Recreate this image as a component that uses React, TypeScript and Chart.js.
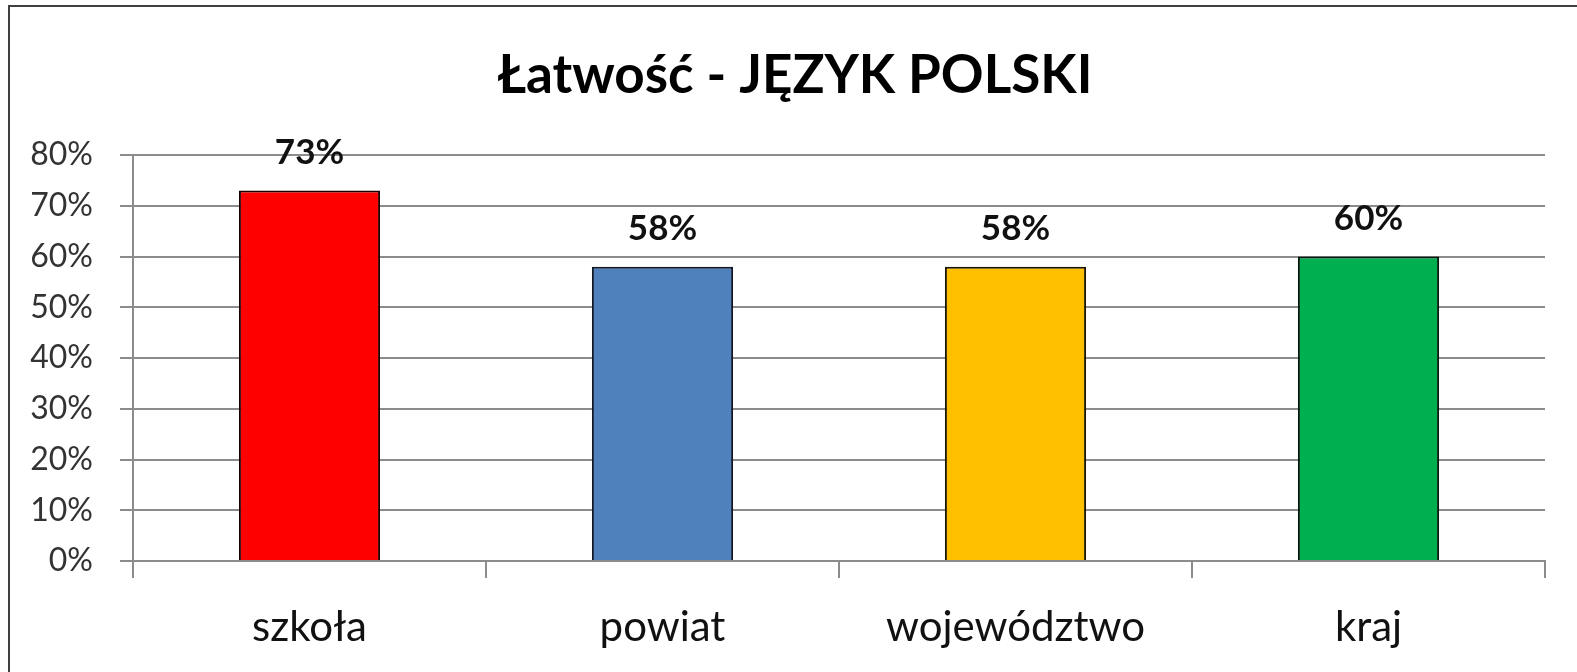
import React, { useEffect, useRef } from "react";
import { Chart, registerables } from "chart.js";

Chart.register(...registerables);

const TITLE = "Łatwość - JĘZYK POLSKI";
const categories = ["szkoła", "powiat", "województwo", "kraj"];
const values = [0.73, 0.58, 0.58, 0.6];
const barColors = ["#FF0000", "#4F81BD", "#FFC000", "#00B050"];
const barBorders = ["#1a0000", "#101828", "#1a1400", "#00180c"];
const yMax = 0.8;
const yStep = 0.1;

const FONT = "Lato, 'Open Sans', sans-serif";

const titlePlugin = {
  id: "customTitle",
  afterDraw(chart: any) {
    const ctx = chart.ctx;
    ctx.save();
    ctx.font = `bold 53px ${FONT}`;
    ctx.fillStyle = "#000";
    ctx.textAlign = "center";
    ctx.textBaseline = "alphabetic";
    ctx.fillText(TITLE, 795, 93);
    ctx.restore();
  },
};

const valueLabels = {
  id: "valueLabels",
  afterDatasetsDraw(chart: any) {
    const ctx = chart.ctx;
    const meta = chart.getDatasetMeta(0);
    ctx.save();
    ctx.font = `bold 35px ${FONT}`;
    ctx.fillStyle = "#111";
    ctx.textAlign = "center";
    ctx.textBaseline = "alphabetic";
    meta.data.forEach((bar: any, i: number) => {
      const v = chart.data.datasets[0].data[i];
      ctx.fillText(Math.round(v * 100) + "%", bar.x, bar.y - 27);
    });
    ctx.restore();
  },
};

export default function App() {
  const ref = useRef<HTMLCanvasElement>(null);
  useEffect(() => {
    if (!ref.current) return;
    const chart = new Chart(ref.current, {
      type: "bar",
      data: {
        labels: categories,
        datasets: [
          {
            data: values,
            backgroundColor: barColors,
            borderColor: barBorders,
            borderWidth: 2,
            barPercentage: 0.4,
            categoryPercentage: 1,
          },
        ],
      },
      options: {
        responsive: false,
        animation: false,
        layout: { padding: { top: 155, right: 32, left: 0, bottom: 0 } },
        plugins: {
          legend: { display: false },
          title: { display: false },
          tooltip: { enabled: false },
        },
        scales: {
          x: {
            grid: {
              drawOnChartArea: false,
              drawTicks: true,
              tickLength: 17,
              color: "#8c8c8c",
              lineWidth: 2,
            },
            border: { color: "#8c8c8c", width: 2 },
            ticks: {
              color: "#111",
              font: { family: FONT, size: 42 },
              padding: 24,
              maxRotation: 0,
            },
            afterFit(scale: any) {
              scale.height = 111;
            },
          },
          y: {
            min: 0,
            max: yMax,
            ticks: {
              stepSize: yStep,
              color: "#333",
              font: { family: FONT, size: 32 },
              padding: 27,
              callback: (v: any) => Math.round(Number(v) * 100) + "%",
            },
            grid: {
              color: "#8c8c8c",
              lineWidth: 2,
              tickLength: 13,
            },
            border: { color: "#8c8c8c", width: 2 },
            afterFit(scale: any) {
              scale.width = 133;
            },
          },
        },
      },
      plugins: [titlePlugin, valueLabels],
    });
    return () => chart.destroy();
  }, []);

  return (
    <div style={{ position: "fixed", left: 0, top: 0, width: 1577, height: 672, background: "#fff", overflow: "hidden" }}>
      <canvas ref={ref} width={1577} height={672} style={{ position: "absolute", left: 0, top: 0 }} />
      <div
        style={{
          position: "absolute",
          left: 8,
          top: 5,
          right: -10,
          bottom: -10,
          borderLeft: "2px solid #404040",
          borderTop: "2px solid #404040",
          pointerEvents: "none",
        }}
      />
    </div>
  );
}
